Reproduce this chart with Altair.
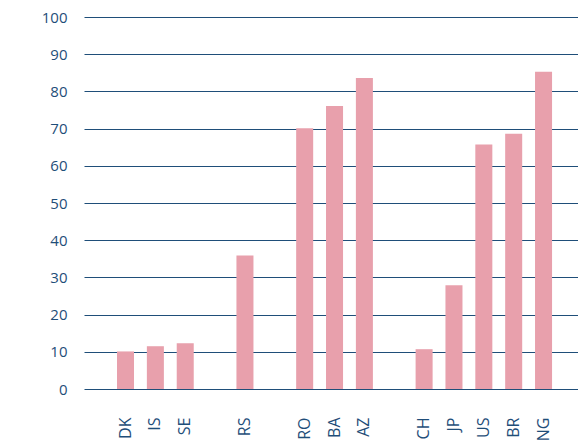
import altair as alt
import pandas as pd

categories = ["    ", "DK", "IS", "SE", " ", "RS", "  ", "RO", "BA", "AZ", "   ", "CH", "JP", "US", "BR", "NG"]
values = [None, 10.1, 11.5, 12.3, None, 35.9, None, 70.1, 76.1, 83.6, None, 10.7, 27.9, 65.7, 68.6, 85.3]

df = pd.DataFrame({"country": categories, "value": values})

navy = "#1F4E79"
pink = "#E8A0AC"

chart = alt.Chart(df).mark_bar(color=pink).encode(
    x=alt.X("country:N", sort=categories,
            scale=alt.Scale(paddingInner=0.43, paddingOuter=0.487, align=0.108),
            axis=alt.Axis(title=None, labelAngle=-90, labelAlign="right", labelBaseline="middle",
                          labelPadding=28, ticks=False, domain=False, grid=False,
                          labelFont="Open Sans", labelFontSize=16, labelColor=navy)),
    y=alt.Y("value:Q", scale=alt.Scale(domain=[0, 100]),
            axis=alt.Axis(title=None, values=list(range(0, 101, 10)), ticks=False, domain=False,
                          labelPadding=17, labelFont="Open Sans", labelFontSize=15, labelColor=navy,
                          gridColor=navy, gridWidth=1, gridOpacity=1)),
).properties(
    width=494, height=372,
    padding={"left": 33, "top": 2, "right": 0, "bottom": 0},
).configure_view(stroke=None).configure_axis(zindex=0)

chart.save("out.html", embed_options={"renderer": "svg", "actions": False})
